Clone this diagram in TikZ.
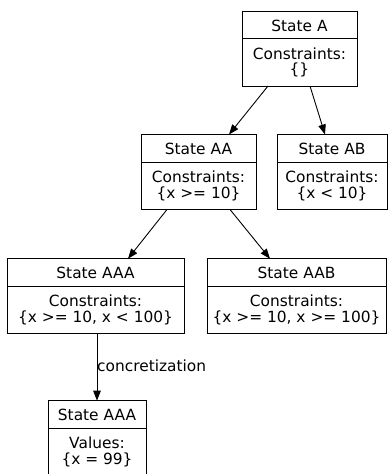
\documentclass[tikz,border=0pt]{standalone}
\usepackage{fontspec}
\setmainfont{DejaVu Sans}
\usetikzlibrary{arrows.meta}

% A record-style state box: name, left x, right x, top y, title, first line, second line
\newcommand\recbox[7]{%
  \node[frame, minimum width={(#3-#2)*1pt}] (#1) at (#2,#4) {};
  \draw[rule] ([yshift=-27.5pt]#1.north west) -- ([yshift=-27.5pt]#1.north east);
  \node[txt] (#1-title) at ([yshift=-20pt]#1.north) {#5};
  \node[txt] (#1-l1) at ([yshift=-48pt]#1.north) {#6};
  \node[txt] (#1-l2) at ([yshift=-63.5pt]#1.north) {#7};
}

\begin{document}
\begin{tikzpicture}[x=1pt, y=-1pt,
  frame/.style={draw, line width=1pt, inner sep=0pt, outer sep=0pt,
    anchor=north west, minimum height=75pt},
  rule/.style={line width=1pt},
  txt/.style={anchor=base, inner sep=0pt, font=\fontsize{15.4}{18}\selectfont},
  arr/.style={line width=0.9pt, -{Triangle[length=10pt,width=7.5pt]}},
]
\useasboundingbox (0,0) rectangle (388,474);

\recbox{A}{242}{357}{11}{State A}{Constraints:}{\{\}}
\recbox{AA}{141}{256}{134.5}{State AA}{Constraints:}{\{x >= 10\}}
\recbox{AB}{277}{387}{134.5}{State AB}{Constraints:}{\{x < 10\}}
\recbox{AAA}{7}{184}{258.7}{State AAA}{Constraints:}{\{x >= 10, x < 100\}}
\recbox{AAB}{207}{386}{258.7}{State AAB}{Constraints:}{\{x >= 10, x >= 100\}}
\recbox{V}{48}{146}{400.7}{State AAA}{Values:}{\{x = 99\}}

\draw[arr] ([xshift=-31.5pt]A.south) -- ([xshift=30.5pt]AA.north);
\draw[arr] ([xshift=10.5pt]A.south) -- ([xshift=-7pt]AB.north);
\draw[arr] ([xshift=-31.5pt]AA.south) -- ([xshift=32.5pt]AAA.north);
\draw[arr] ([xshift=31.5pt]AA.south) -- ([xshift=-26.5pt]AAB.north);
\draw[arr] ([xshift=1.5pt]AAA.south) -- (V.north);

\node[txt, anchor=base west] (conc) at (97,371.5) {concretization};
\end{tikzpicture}
\end{document}
